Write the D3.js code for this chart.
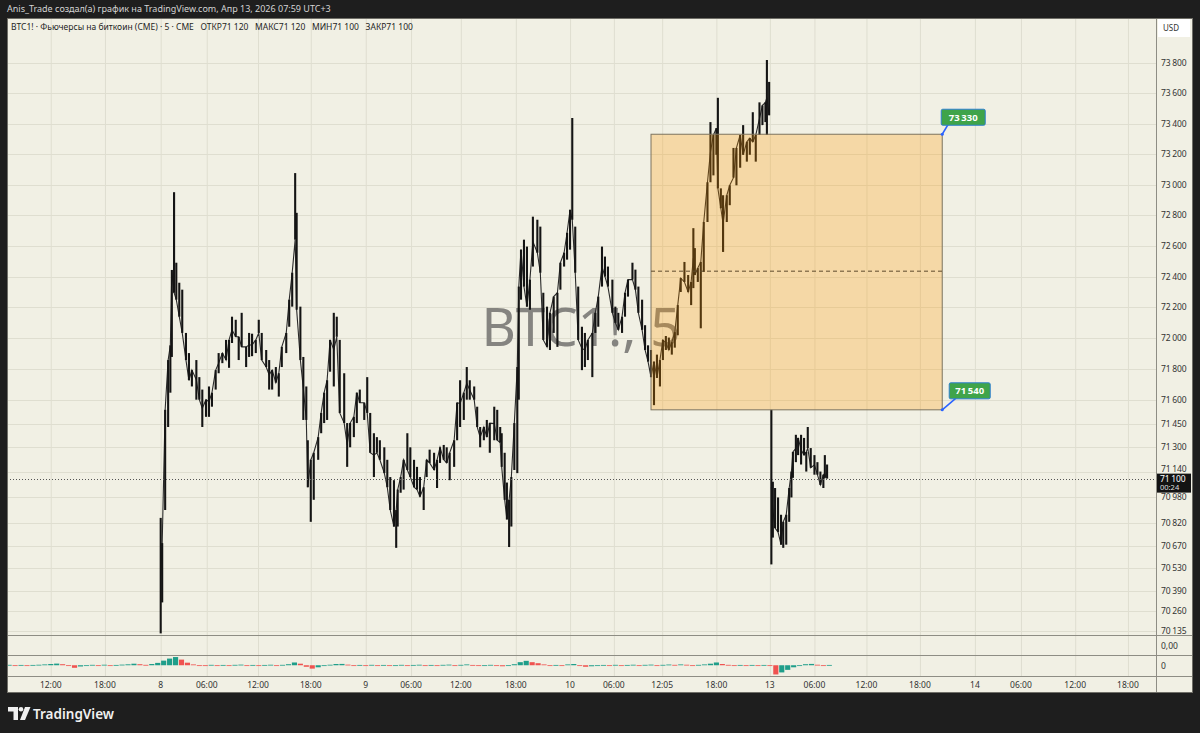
<!DOCTYPE html>
<html><head><meta charset="utf-8">
<script src="https://cdn.jsdelivr.net/npm/d3@7"></script>
<style>
body{margin:0;background:#1e1e1e;}
svg{display:block;font-family:"Noto Sans","DejaVu Sans",sans-serif;}
</style>
</head><body>
<svg id="c" width="1200" height="733"></svg>
<script>
// ---------- DATA ----------
// 5-minute bar number counted from Apr 8 00:00 (UTC+3); each entry summarises a few bars (high / low)
const bars=[0,2,6,10,13,15,18,21,25,29,34,38,42,48,52,56,61,65,69,74,78,83,88,92,96,101,105,109,115,119,123,128,132,136,142,146,150,155,159,163,169,173,177,181,183,188,192,196,198,202,206,212,216,220,224,228,233,237,241,247,251,255,260,264,268,274,278,282,287,291,295,301,305,309,314,317,319,323,327,332,336,341,345,349,354,358,362,368,372,376,381,385,389,395,399,403,408,412,416,422,426,430,435,439,443,449,453,457,459,463,466,469,472,476,480,482,485,489,493,497,501,507,511,515,520,524,529,534,538,543,547,551,554,558,562,567,571,575,581,585,589,594,598,602,608,612,616,621,625,629,635,639,643,648,652,656,660,664,668,672,676,680,684,688,692,696,700,705,710,714,717,719,723,727,731,736,740,744,748,750,754,757,762,766,771,775,780,784,789,793,797,801,806,810,814,816,819,822,824,827,831,835,838,842,846,849,851,855,858,862,866,869,871,875,880,884,888,892,894,897];
const highs=[70850,70690,71540,71860,71955,72443,72950,72490,72360,72315,
72035,71905,71795,71860,71750,71670,71605,71690,71650,71795,
71905,71905,71990,71990,72140,72120,72010,72165,71945,72035,
72030,71990,72120,72035,71925,71860,71795,71815,71775,71945,
72035,72250,72425,73075,72815,72205,71880,71690,71345,71220,
71265,71365,71520,71650,71730,71990,72165,72140,71990,71775,
71455,71455,71495,71650,71670,71585,71750,71520,71390,71365,
71345,71300,71220,71110,71090,70900,71030,71110,71220,71390,
71300,71220,71175,71110,71045,71220,71285,71265,71220,71300,
71315,71300,71265,71345,71585,71730,71650,71815,71730,71690,
71560,71430,71430,71475,71455,71560,71540,71430,71390,71265,
71075,70965,71110,71455,71815,72335,72575,72640,72595,72380,
72790,72770,72725,72295,72205,72165,72270,72295,72490,72555,
72685,72835,73437,72725,72335,72075,72035,71990,72035,72165,
72270,72595,72530,72465,72380,72205,72165,72140,72295,72380,
72490,72445,72335,72250,72085,71955,71925,71850,71895,71860,
71990,72015,72005,71975,72040,72215,72390,72495,72410,72365,
72715,72585,72455,72495,72755,73015,73410,73325,73370,73570,
72975,72930,72930,72995,73240,73240,73325,73390,73280,73305,
73475,73325,73540,73520,73540,73820,73675,71540,71080,71040,
70980,70870,70825,70870,71040,71145,71270,71380,71360,71380,
71360,71270,71430,71295,71250,71205,71145,71125,71250,71190];
const lows=[70120,70315,70900,71430,71650,71880,72295,72250,72140,72035,
71860,71730,71690,71605,71605,71430,71495,71495,71560,71670,
71775,71840,71860,71810,71970,72010,71860,71945,71815,71880,
71885,71905,72035,71860,71815,71670,71670,71715,71625,71815,
71905,72075,72205,72640,72185,71860,71475,71475,71045,70825,
70965,71220,71390,71455,71475,71785,71690,72010,71520,71455,
71175,71300,71365,71455,71585,71475,71520,71265,71110,71265,
71220,71135,71045,70900,70795,70660,70795,71010,71030,71155,
71110,71045,71030,70985,70900,71110,71200,71155,71040,71200,
71220,71200,71090,71175,71345,71430,71475,71605,71605,71605,
71430,71300,71345,71365,71265,71345,71345,71330,71175,70965,
70840,70665,70795,71155,71135,71605,72250,72335,72205,72185,
72465,72555,72425,71990,71945,71925,72035,71945,72315,72465,
72510,72575,72770,72425,71990,71795,71815,71860,71750,72035,
72075,72335,72400,72335,72165,72100,72055,72035,72140,72270,
72380,72315,72165,72055,71925,71850,71750,71570,71745,71690,
71860,71925,71925,71895,71940,72020,72300,72365,72300,72215,
72325,72410,72365,72065,72430,72755,73015,73060,73195,72975,
72845,72560,72755,72865,73045,72995,73110,73195,73150,73195,
73280,73150,73325,73390,73410,73325,73455,70555,70725,70785,
70760,70680,70660,70680,70825,70980,71105,71205,71250,71190,
71250,71145,71295,71170,71125,71125,71060,71040,71105,71100];

const priceTicks=[73800,73600,73400,73200,73000,72800,72600,72400,72200,72000,71800,71600,71450,71300,71140,70980,70820,70670,70530,70390,70260,70135];
const timeTickBars=[-148,-75,0,62,131,202,276,337,404,478,551,610,675,748,820,880,950,1022,1096,1158,1231,1302];
const timeTickLabels=["12:00","18:00","8","06:00","12:00","18:00","9","06:00","12:00","18:00","10","06:00","12:05","18:00","13","06:00","12:00","18:00","14","06:00","12:00","18:00"];

// oscillator histogram (first value at bar oscStart, one value every oscStep bars)
const oscStart=-204, oscStep=8;
const osc=[0.4,-0.3,0.3,-0.4,0.3,0.5,0.8,1.2,1.6,1.0,-0.5,-2.5,-1.2,-0.5,0.4,-0.3,0.5,-0.4,0.3,0.6,
0.9,1.5,1.0,0.4,1.2,2.3,4.5,6.5,8.0,5.5,2.5,0.8,-0.5,-0.8,0.4,-0.3,0.3,-0.4,0.4,0.6,
-0.3,0.3,-0.4,0.3,0.5,-0.5,0.4,1.0,2.7,1.5,-1.5,-3.3,-2.0,-0.8,0.5,1.2,1.3,0.6,-0.4,0.3,
-0.3,0.4,-0.5,0.3,-0.6,-0.3,0.4,-0.4,0.3,0.5,-0.4,0.3,-0.3,0.4,0.6,-0.3,0.4,0.8,0.3,-0.5,
-0.3,0.4,-0.6,-1.0,-0.4,1.0,3.0,4.3,3.0,2.0,0.8,-0.4,0.3,-0.3,0.8,1.2,-0.5,-1.5,-1.0,-0.4,
0.3,-0.3,0.4,-0.4,0.3,0.5,-0.3,0.4,0.6,-0.3,0.4,0.7,0.4,0.8,0.5,-0.3,0.4,0.8,1.5,2.7,
1.2,0.4,-0.3,0.3,-0.3,0.3,-0.3,0.3,-0.4,-9.0,-7.0,-4.5,-2.0,-0.5,1.0,1.3,0.5,-0.4,0.3];

const zoneBars=[660,1052];
const zonePrices=[73330,71540];
const lastPrice=71100;
const countdown="00:24";
const headerText="Anis_Trade создал(а) график на TradingView.com, Апр 13, 2026 07:59 UTC+3";
const legendText="BTC1! · Фьючерсы на биткоин (CME) · 5 · CME   ОТКР71 120   МАКС71 120   МИН71 100   ЗАКР71 100";
const watermark="BTC1!, 5";

// ---------- LAYOUT ----------
const L=7, R=1193, AX=1156, TOP=18, MB=635, P2B=655, P3B=676, BOT=693;
const fmt=v=>d3.format(",")(v).replace(/,/g,"\u2009");
const fmtOsc=d=>d3.format(".2f")(d).replace(".",",");

const svg=d3.select("#c");
const x=d3.scaleLinear().domain([0,1000]).range([160.7,903.6]);
const y=d3.scaleLog().domain([70135,73800]).range([631,63]);
const yo=d3.scaleLinear().domain([-10.5,10]).range([P3B,P2B]);

svg.append("rect").attr("width",1200).attr("height",733).attr("fill","#1e1e1e");
svg.append("text").attr("x",7).attr("y",11.5).attr("font-size",9).attr("fill","#d4d4d4").text(headerText);

// panel
svg.append("rect").attr("x",L).attr("y",TOP).attr("width",R-L).attr("height",BOT-TOP).attr("fill","#f1f0e4");

const defs=svg.append("defs");
defs.append("clipPath").attr("id","main").append("rect").attr("x",L).attr("y",TOP).attr("width",AX-L).attr("height",MB-TOP);
defs.append("clipPath").attr("id","all").append("rect").attr("x",L).attr("y",TOP).attr("width",AX-L).attr("height",P3B-TOP);

// grid
const grid=svg.append("g").attr("clip-path","url(#all)");
grid.selectAll("line.v").data(timeTickBars).join("line")
  .attr("x1",d=>x(d)+0.5).attr("x2",d=>x(d)+0.5).attr("y1",TOP).attr("y2",P3B)
  .attr("stroke","#dfded0").attr("stroke-width",1);
grid.selectAll("line.h").data(priceTicks).join("line")
  .attr("x1",L).attr("x2",AX).attr("y1",d=>Math.round(y(d))+0.5).attr("y2",d=>Math.round(y(d))+0.5)
  .attr("stroke","#dfded0").attr("stroke-width",1);

// watermark
svg.append("text").attr("x",581).attr("y",346).attr("text-anchor","middle")
  .attr("font-size",53).attr("fill","#858480").text(watermark);

// price bars
const main=svg.append("g").attr("clip-path","url(#main)");
// thin trace joining consecutive bars (the original shows many tiny candles)
const link=d3.line().x(d=>x(d.b)).y(d=>d.y);
const pts=[];
bars.forEach((b,i)=>{
  const hi=y(highs[i]), lo=y(lows[i]);
  if(i===bars.length-1 || bars[i+1]-b>12){ pts.push({b,y:(hi+lo)/2}); return; }
  const nh=y(highs[i+1]), nl=y(lows[i+1]);
  pts.push({b,y: nh<hi ? hi : (nl>lo ? lo : (hi+lo)/2)});
});
main.append("path").attr("d",link(pts.slice(0,197))).attr("fill","none").attr("stroke","#2a2a2a").attr("stroke-width",1.1);
main.append("path").attr("d",link(pts.slice(197))).attr("fill","none").attr("stroke","#2a2a2a").attr("stroke-width",1.1);
main.selectAll("line.c").data(bars).join("line")
  .attr("x1",d=>x(d)).attr("x2",d=>x(d))
  .attr("y1",(d,i)=>y(highs[i])).attr("y2",(d,i)=>y(lows[i]))
  .attr("stroke","#141414").attr("stroke-width",2.1);

// zone rectangle
const zx0=x(zoneBars[0]), zx1=x(zoneBars[1]), zy0=y(zonePrices[0]), zy1=y(zonePrices[1]);
main.append("rect").attr("x",zx0).attr("y",zy0).attr("width",zx1-zx0).attr("height",zy1-zy0)
  .attr("fill","rgb(255,152,0)").attr("fill-opacity",0.27).attr("stroke","#7d735f").attr("stroke-width",1);
const zmid=y((zonePrices[0]+zonePrices[1])/2);
main.append("line").attr("x1",zx0).attr("x2",zx1).attr("y1",zmid).attr("y2",zmid)
  .attr("stroke","#5e4a2c").attr("stroke-width",1).attr("stroke-dasharray","4,3");

// current price dotted line
main.append("line").attr("x1",L).attr("x2",AX).attr("y1",Math.round(y(lastPrice))+0.5).attr("y2",Math.round(y(lastPrice))+0.5)
  .attr("stroke","#555").attr("stroke-width",1).attr("stroke-dasharray","1,2");

// zone labels
const labs=[{p:zonePrices[0],cx:zx1,cy:zy0,dx:-1,dy:-25,w:44},{p:zonePrices[1],cx:zx1,cy:zy1,dx:7,dy:-27,w:41}];
labs.forEach(l=>{
  svg.append("line").attr("x1",l.cx).attr("y1",l.cy).attr("x2",l.cx+l.dx+7).attr("y2",l.cy+l.dy+15)
    .attr("stroke","#2962ff").attr("stroke-width",1.5);
  svg.append("circle").attr("cx",l.cx).attr("cy",l.cy).attr("r",1.5).attr("fill","#2962ff");
  svg.append("rect").attr("x",l.cx+l.dx).attr("y",l.cy+l.dy).attr("width",l.w).attr("height",16).attr("rx",1.5)
    .attr("fill","#3fa44a").attr("stroke","#2e7fd0").attr("stroke-width",1);
  svg.append("text").attr("x",l.cx+l.dx+l.w/2).attr("y",l.cy+l.dy+11.5).attr("text-anchor","middle")
    .attr("font-size",9.5).attr("font-weight","bold").attr("fill","#fff").text(fmt(l.p));
});

// oscillator histogram
const og=svg.append("g").attr("clip-path","url(#all)");
const ow=x(oscStep)-x(0);
og.selectAll("rect").data(osc).join("rect")
  .attr("x",(d,i)=>x(oscStart+i*oscStep)-ow/2+0.4).attr("width",ow-0.8)
  .attr("y",d=>Math.min(yo(d),yo(0))).attr("height",d=>Math.max(0.8,Math.abs(yo(d)-yo(0))))
  .attr("fill",(d,i)=>(i>0 && d<osc[i-1])?"#ef5350":"#1f9e8a");

// pane separators
const sep=svg.append("g").attr("stroke","#8e8d84").attr("stroke-width",1);
[MB,P2B,P3B].forEach(v=>sep.append("line").attr("x1",L).attr("x2",R).attr("y1",v+0.5).attr("y2",v+0.5));
sep.append("line").attr("x1",AX+0.5).attr("x2",AX+0.5).attr("y1",TOP).attr("y2",BOT);
svg.append("rect").attr("x",L+0.5).attr("y",TOP+0.5).attr("width",R-L-1).attr("height",BOT-TOP-1)
  .attr("fill","none").attr("stroke","#6f6e67").attr("stroke-width",1);

// legend
svg.append("text").attr("x",11).attr("y",30).attr("font-size",8.5).attr("fill","#1f1f1f")
  .style("white-space","pre").text(legendText);

// price axis
const ly=y(lastPrice);
const pa=svg.append("g").attr("font-size",8.5).attr("fill","#333");
pa.selectAll("text").data(priceTicks).join("text")
  .attr("x",AX+5).attr("y",d=>y(d)+(Math.abs(y(d)-ly)<9?0:3)).text(d=>fmt(d));
svg.append("rect").attr("x",AX+2).attr("y",TOP+1).attr("width",R-AX-5).attr("height",18).attr("fill","#fff");
svg.append("text").attr("x",AX+7).attr("y",TOP+13).attr("font-size",8).attr("fill","#333").text("USD");
svg.append("text").attr("x",AX+5).attr("y",(MB+P2B)/2+3.5).attr("font-size",8.5).attr("fill","#333").text(fmtOsc(0));
svg.append("text").attr("x",AX+5).attr("y",(P2B+P3B)/2+3.5).attr("font-size",8.5).attr("fill","#333").text(0);

// last price label (partly covers the neighbouring tick, as in the original)
svg.append("rect").attr("x",AX+1).attr("y",ly-5).attr("width",34).attr("height",19).attr("fill","#131313");
svg.append("text").attr("x",AX+4).attr("y",ly+3).attr("font-size",8.5).attr("fill","#fff").text(fmt(lastPrice));
svg.append("text").attr("x",AX+4).attr("y",ly+11.5).attr("font-size",7.5).attr("fill","#ddd").text(countdown);

// time axis
svg.append("g").attr("font-size",8.5).attr("fill","#333").selectAll("text").data(timeTickBars).join("text")
  .attr("x",d=>x(d)).attr("y",688).attr("text-anchor","middle").text((d,i)=>timeTickLabels[i]);

// TradingView logo
const lg=svg.append("g").attr("fill","#f0f0f0");
lg.append("path").attr("d","M8,707 h10 v13 h-4.5 v-8.5 h-5.5 z");
lg.append("circle").attr("cx",21).attr("cy",709.3).attr("r",2.3);
lg.append("path").attr("d","M25,707 h5.5 l-5.5,13 h-5 z");
svg.append("text").attr("x",33).attr("y",719).attr("font-size",13.5).attr("font-weight","600").attr("fill","#f0f0f0").text("TradingView");
</script>
</body></html>
